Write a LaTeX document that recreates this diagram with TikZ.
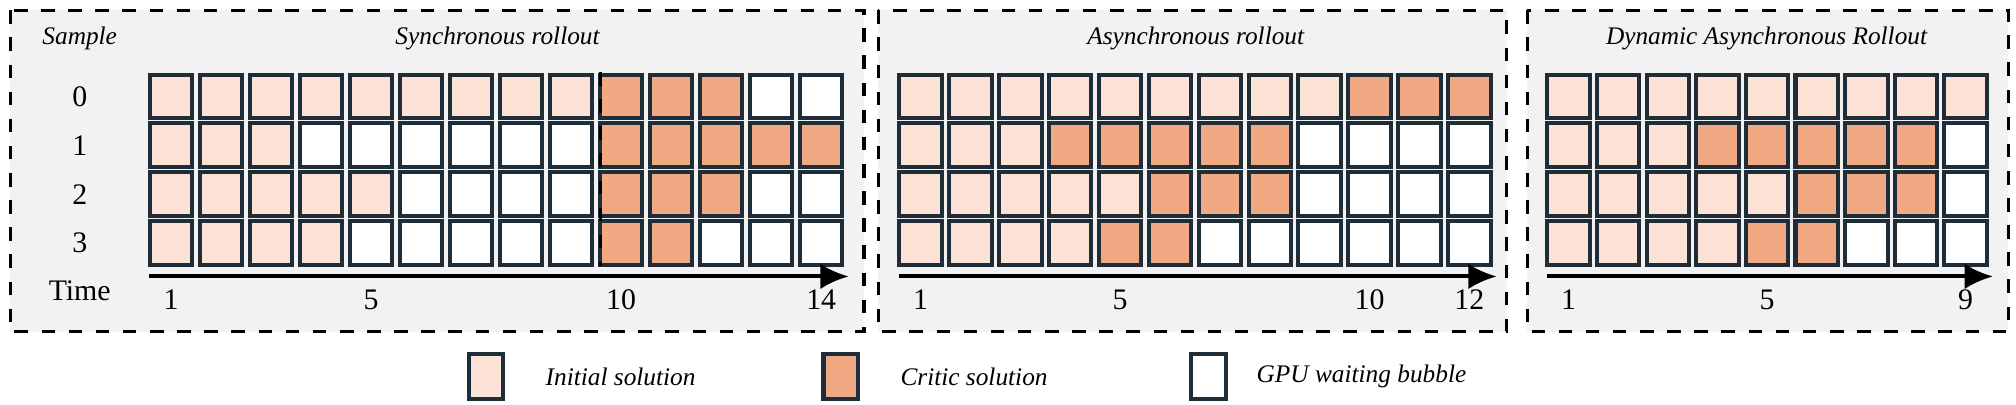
\documentclass[tikz,border=0pt]{standalone}
\usepackage{fontspec}
\setmainfont{Liberation Serif}
\usetikzlibrary{arrows.meta,calc}
\definecolor{I}{HTML}{FBE2D5}
\definecolor{C}{HTML}{F1A983}
\definecolor{W}{HTML}{FFFFFF}
\definecolor{edge}{HTML}{1E2D38}
\definecolor{panelbg}{HTML}{F2F2F2}
\tikzset{
	panel/.style={draw, dashed, line width=0.7pt, fill=panelbg},
	cell/.style={draw=edge, line width=0.9pt, minimum width=0.33cm, minimum height=0.34cm, inner sep=0pt},
	title/.style={font=\fontsize{5.6}{7}\selectfont\itshape},
	axis/.style={-{Latex[length=2.2mm,width=2mm]}, line width=0.9pt},
}
\begin{document}
\begin{tikzpicture}[x=0.01cm, y=-0.01cm, font=\fontsize{6.6}{8}\selectfont]
	\useasboundingbox (0,0) rectangle (1568,315);
	
	% panels
	\draw[panel] (8,8) rectangle (672,258);
	\draw[panel] (683,8) rectangle (1172,258);
	\draw[panel] (1188,8) rectangle (1562,258);
	
	\node[title] (sample) at (62,30) {Sample};
	\node (time) at (62,226) {Time};
	\node[title] (sync) at (387,30) {Synchronous rollout};
	\node[title] (async) at (930,30) {Asynchronous rollout};
	\node[title] (dyn) at (1374,30) {Dynamic Asynchronous Rollout};
	
	% sample ids
	\foreach \r in {0,...,3}
		\node (id\r) at (62,75+38*\r) {\r};
	
	% synchronous rollout
	\foreach \r/\cells in {0/{I,I,I,I,I,I,I,I,I,C,C,C,W,W},
		1/{I,I,I,W,W,W,W,W,W,C,C,C,C,C},
		2/{I,I,I,I,I,W,W,W,W,C,C,C,W,W},
		3/{I,I,I,I,W,W,W,W,W,C,C,W,W,W}}
		\foreach \k [count=\i] in \cells
			\node[cell, fill=\k] (s\r-\i) at (133+38.9*\i-38.9,75+38*\r) {};
	\draw[dashed, line width=0.6pt] (467,56) -- (467,207);
	
	% asynchronous rollout
	\foreach \r/\cells in {0/{I,I,I,I,I,I,I,I,I,C,C,C},
		1/{I,I,I,C,C,C,C,C,W,W,W,W},
		2/{I,I,I,I,I,C,C,C,W,W,W,W},
		3/{I,I,I,I,C,C,W,W,W,W,W,W}}
		\foreach \k [count=\i] in \cells
			\node[cell, fill=\k] (a\r-\i) at (716+38.8*\i-38.8,75+38*\r) {};
	
	% dynamic asynchronous rollout
	\foreach \r/\cells in {0/{I,I,I,I,I,I,I,I,I},
		1/{I,I,I,C,C,C,C,C,W},
		2/{I,I,I,I,I,C,C,C,W},
		3/{I,I,I,I,C,C,W,W,W}}
		\foreach \k [count=\i] in \cells
			\node[cell, fill=\k] (d\r-\i) at (1220+38.6*\i-38.6,75+38*\r) {};
	
	% time axes
	\coordinate (sx0) at (116,215);
	\coordinate (sx1) at (660,215);
	\coordinate (ax0) at (699,215);
	\coordinate (ax1) at (1164,215);
	\coordinate (dx0) at (1203,215);
	\coordinate (dx1) at (1550,215);
	\draw[axis] (sx0) -- (sx1);
	\draw[axis] (ax0) -- (ax1);
	\draw[axis] (dx0) -- (dx1);
	\foreach \t in {1,5,10,14}
		\node (st\t) at ($(s3-\t)+(0,44)$) {\t};
	\foreach \t in {1,5,10,12}
		\node (at\t) at ($(a3-\t)+(0,44)$) {\t};
	\foreach \t in {1,5,9}
		\node (dt\t) at ($(d3-\t)+(0,44)$) {\t};
	
	% legend
	\node[cell, fill=I, minimum width=0.27cm, minimum height=0.35cm] (lgI) at (378,293) {};
	\node[anchor=west, title] (lgItext) at (412,293) {Initial solution};
	\node[cell, fill=C, minimum width=0.27cm, minimum height=0.35cm] (lgC) at (654,293) {};
	\node[anchor=west, title] (lgCtext) at (688,293) {Critic solution};
	\node[cell, fill=W, minimum width=0.27cm, minimum height=0.35cm] (lgW) at (940,293) {};
	\node[anchor=west, title] (lgWtext) at (965,293) {GPU waiting bubble};
\end{tikzpicture}
\end{document}
